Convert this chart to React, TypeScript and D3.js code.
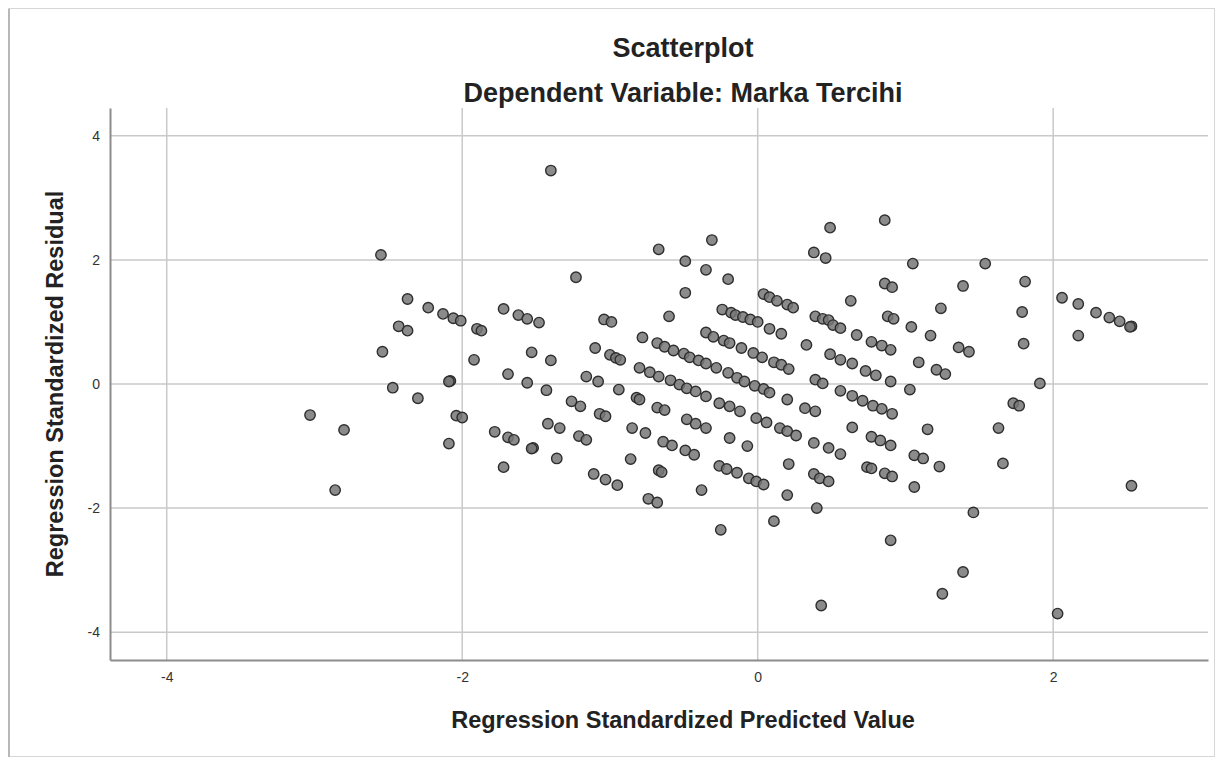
import React, { useEffect, useRef } from "react";
import * as d3 from "d3";

// Regression Standardized Predicted Value (x) and Regression Standardized Residual (y)
const predicted = [
  -1.40, -2.55, -1.23, -2.37, -2.23, -2.13, -2.06, -2.01, -1.72, -1.62, -1.56, -1.48,
  -2.43, -2.37, -1.90, -1.87, -2.54, -1.92, -1.53, -1.40, -1.69, -2.08, -2.09, -2.47,
  -2.30, -1.56, -1.43, -1.26, -1.20, -3.03, -2.04, -2.00, -2.80, -1.78, -1.69, -1.65,
  -1.42, -1.34, -1.21, -1.16, -2.09, -1.52, -1.53, -1.36, -1.72, -2.86,
  0.49, -0.31, -0.67, -0.49, 0.38, 0.46, -0.35, -0.20, -0.49, 0.63, 0.04, 0.08,
  0.13, 0.20, 0.24, -0.24, -0.18, -0.15, -0.10, -0.05, 0.00, -0.60, -1.04, -0.99,
  0.39, 0.44, 0.48, 0.51, 0.56, 0.67, 0.08, 0.16, -0.35, -0.30, -0.23, -0.19,
  -0.11, -0.03, 0.03, 0.11, 0.16, 0.21, 0.33, 0.49, 0.56, 0.64, -0.78, -0.68,
  -0.63, -0.57, -0.50, -0.46, -0.40, -0.35, -0.28, -0.20, -0.14, -0.09, -0.02, 0.04,
  0.08, -1.10, -1.00, -0.96, -0.93, -0.80, -0.73, -0.67, -0.59, -0.53, -0.48, -0.42,
  -0.35, -1.16, -1.08, -0.94, -0.82, -0.80, -1.07, -1.03, -0.68, -0.63, -0.26, -0.19,
  -0.12, 0.39, 0.44, 0.20, 0.32, 0.39, 0.56, 0.64, -0.48, -0.42, -0.35, -0.01,
  0.06, 0.15, 0.20, 0.26, -0.85, -0.76, -0.64, -0.58, -0.49, -0.43, -0.19, -0.07,
  0.38, 0.48, 0.56, -0.86, 0.21, -0.26, -0.21, -0.14, -0.67, -0.65, -1.11, 0.38,
  -1.03, -0.95, -0.74, -0.68, -0.38, -0.25, -0.06, -0.01, 0.04, 0.20, 0.11, 0.42,
  0.48, 0.40, 0.43,
  0.86, 1.05, 1.54, 1.81, 0.86, 0.91, 1.39, 1.24, 1.79, 0.88, 0.92, 2.06,
  2.17, 2.29, 2.38, 2.45, 1.04, 0.77, 0.84, 0.90, 1.17, 1.36, 1.43, 1.80,
  2.53, 2.52, 2.17, 1.09, 0.73, 0.80, 1.21, 1.27, 0.90, 1.03, 1.91, 0.71,
  0.78, 0.84, 0.91, 1.73, 1.77, 0.64, 1.15, 1.63, 0.77, 0.83, 0.90, 1.06,
  1.12, 1.23, 1.66, 0.74, 0.77, 0.86, 0.91, 1.06, 1.46, 0.90, 1.39, 1.25,
  2.03, 2.53,
];

const residual = [
  3.44, 2.08, 1.72, 1.37, 1.23, 1.13, 1.06, 1.02, 1.21, 1.11, 1.05, 0.99,
  0.93, 0.86, 0.89, 0.86, 0.52, 0.39, 0.51, 0.38, 0.16, 0.05, 0.04, -0.06,
  -0.23, 0.02, -0.10, -0.28, -0.36, -0.50, -0.51, -0.54, -0.74, -0.77, -0.86, -0.90,
  -0.64, -0.71, -0.84, -0.90, -0.96, -1.03, -1.04, -1.20, -1.34, -1.71,
  2.52, 2.32, 2.17, 1.98, 2.12, 2.03, 1.84, 1.69, 1.47, 1.34, 1.45, 1.40,
  1.34, 1.28, 1.23, 1.20, 1.15, 1.11, 1.08, 1.04, 1.00, 1.09, 1.04, 1.00,
  1.09, 1.05, 1.03, 0.95, 0.90, 0.79, 0.89, 0.81, 0.83, 0.76, 0.70, 0.66,
  0.58, 0.50, 0.43, 0.35, 0.31, 0.24, 0.63, 0.48, 0.39, 0.33, 0.75, 0.66,
  0.60, 0.54, 0.49, 0.43, 0.38, 0.33, 0.26, 0.18, 0.10, 0.04, -0.03, -0.08,
  -0.14, 0.58, 0.47, 0.42, 0.39, 0.26, 0.19, 0.12, 0.06, -0.01, -0.07, -0.12,
  -0.20, 0.12, 0.04, -0.09, -0.22, -0.25, -0.48, -0.52, -0.38, -0.42, -0.31, -0.36,
  -0.44, 0.07, 0.01, -0.25, -0.39, -0.44, -0.11, -0.19, -0.57, -0.64, -0.71, -0.55,
  -0.62, -0.71, -0.76, -0.83, -0.71, -0.79, -0.93, -0.99, -1.07, -1.14, -0.87, -1.00,
  -0.95, -1.03, -1.13, -1.21, -1.29, -1.32, -1.37, -1.43, -1.39, -1.42, -1.45, -1.45,
  -1.54, -1.63, -1.85, -1.91, -1.71, -2.35, -1.52, -1.57, -1.62, -1.79, -2.21, -1.52,
  -1.57, -2.00, -3.57,
  2.64, 1.94, 1.94, 1.65, 1.62, 1.56, 1.58, 1.22, 1.16, 1.09, 1.05, 1.39,
  1.29, 1.15, 1.07, 1.01, 0.92, 0.68, 0.62, 0.55, 0.78, 0.59, 0.52, 0.65,
  0.93, 0.92, 0.78, 0.35, 0.21, 0.14, 0.23, 0.16, 0.04, -0.09, 0.01, -0.27,
  -0.35, -0.40, -0.48, -0.31, -0.35, -0.70, -0.73, -0.71, -0.85, -0.91, -0.99, -1.15,
  -1.20, -1.33, -1.28, -1.34, -1.36, -1.44, -1.49, -1.66, -2.07, -2.52, -3.03, -3.38,
  -3.70, -1.64,
];

const xTicks = [-4, -2, 0, 2];
const yTicks = [-4, -2, 0, 2, 4];
const xDomain = [-4.384, 3.048];
const yDomain = [-4.448, 4.448];
const titleLines = ["Scatterplot", "Dependent Variable: Marka Tercihi"];
const xTitle = "Regression Standardized Predicted Value";
const yTitle = "Regression Standardized Residual";

const W = 1219;
const H = 760;
const plot = { left: 110, right: 1208, top: 108, bottom: 660 };
const FONT = "'Liberation Sans', Arial, sans-serif";

export default function App() {
  const ref = useRef<SVGSVGElement>(null);

  useEffect(() => {
    const svg = d3.select(ref.current);
    svg.selectAll("*").remove();

    const x = d3.scaleLinear(xDomain, [plot.left, plot.right]);
    const y = d3.scaleLinear(yDomain, [plot.bottom, plot.top]);

    // outer frame of the pasted chart
    svg.append("rect")
      .attr("x", 8.5).attr("y", 8.5).attr("width", 1206).attr("height", 748)
      .attr("fill", "#fff").attr("stroke", "#d6d6d6");
    svg.append("line")
      .attr("x1", 9).attr("x2", 9).attr("y1", 9).attr("y2", 757)
      .attr("stroke", "#b8b8b8").attr("stroke-width", 2);

    // grid
    const grid = svg.append("g").attr("stroke", "#c9c9c9").attr("stroke-width", 1.5);
    grid.selectAll("line.v").data(xTicks).join("line").attr("class", "v")
      .attr("x1", d => x(d)).attr("x2", d => x(d))
      .attr("y1", plot.top).attr("y2", plot.bottom);
    grid.selectAll("line.h").data(yTicks).join("line").attr("class", "h")
      .attr("x1", plot.left).attr("x2", plot.right)
      .attr("y1", d => y(d)).attr("y2", d => y(d));

    // axes
    const yAxis = svg.append("g")
      .attr("transform", `translate(${plot.left},0)`)
      .call(d3.axisLeft(y).tickValues(yTicks).tickSize(0).tickPadding(10).tickFormat(d3.format("d")));
    const xAxis = svg.append("g")
      .attr("transform", `translate(0,${plot.bottom})`)
      .call(d3.axisBottom(x).tickValues(xTicks).tickSize(0).tickPadding(12).tickFormat(d3.format("d")));
    [xAxis, yAxis].forEach(g => {
      g.select(".domain").attr("stroke", "#8c8c8c").attr("stroke-width", 2);
      g.selectAll("text")
        .attr("font-family", FONT).attr("font-size", 14).attr("fill", "#333")
        .text((d: any) => String(d).replace("−", "-"));
    });

    // points
    svg.append("g")
      .selectAll("circle")
      .data(predicted.map((p, i) => [p, residual[i]]))
      .join("circle")
      .attr("cx", d => x(d[0]))
      .attr("cy", d => y(d[1]))
      .attr("r", 5.2)
      .attr("fill", "#777")
      .attr("fill-opacity", 0.85)
      .attr("stroke", "#2e2e2e")
      .attr("stroke-width", 1.4);

    // titles
    svg.append("g").selectAll("text").data(titleLines).join("text")
      .attr("x", 683).attr("y", (_, i) => 57 + i * 45)
      .attr("text-anchor", "middle")
      .attr("font-family", FONT).attr("font-weight", "bold").attr("font-size", 27)
      .attr("fill", "#222")
      .text(d => d);

    svg.append("text")
      .attr("x", 683).attr("y", 728)
      .attr("text-anchor", "middle")
      .attr("font-family", FONT).attr("font-weight", "bold").attr("font-size", 23.5)
      .attr("fill", "#222")
      .text(xTitle);

    svg.append("text")
      .attr("transform", `translate(63,${(plot.top + plot.bottom) / 2}) rotate(-90)`)
      .attr("text-anchor", "middle")
      .attr("font-family", FONT).attr("font-weight", "bold").attr("font-size", 23.5)
      .attr("fill", "#222")
      .text(yTitle);
  }, []);

  return (
    <svg
      ref={ref}
      width={W}
      height={H}
      style={{ position: "absolute", left: 0, top: 0, background: "#fff" }}
    />
  );
}
